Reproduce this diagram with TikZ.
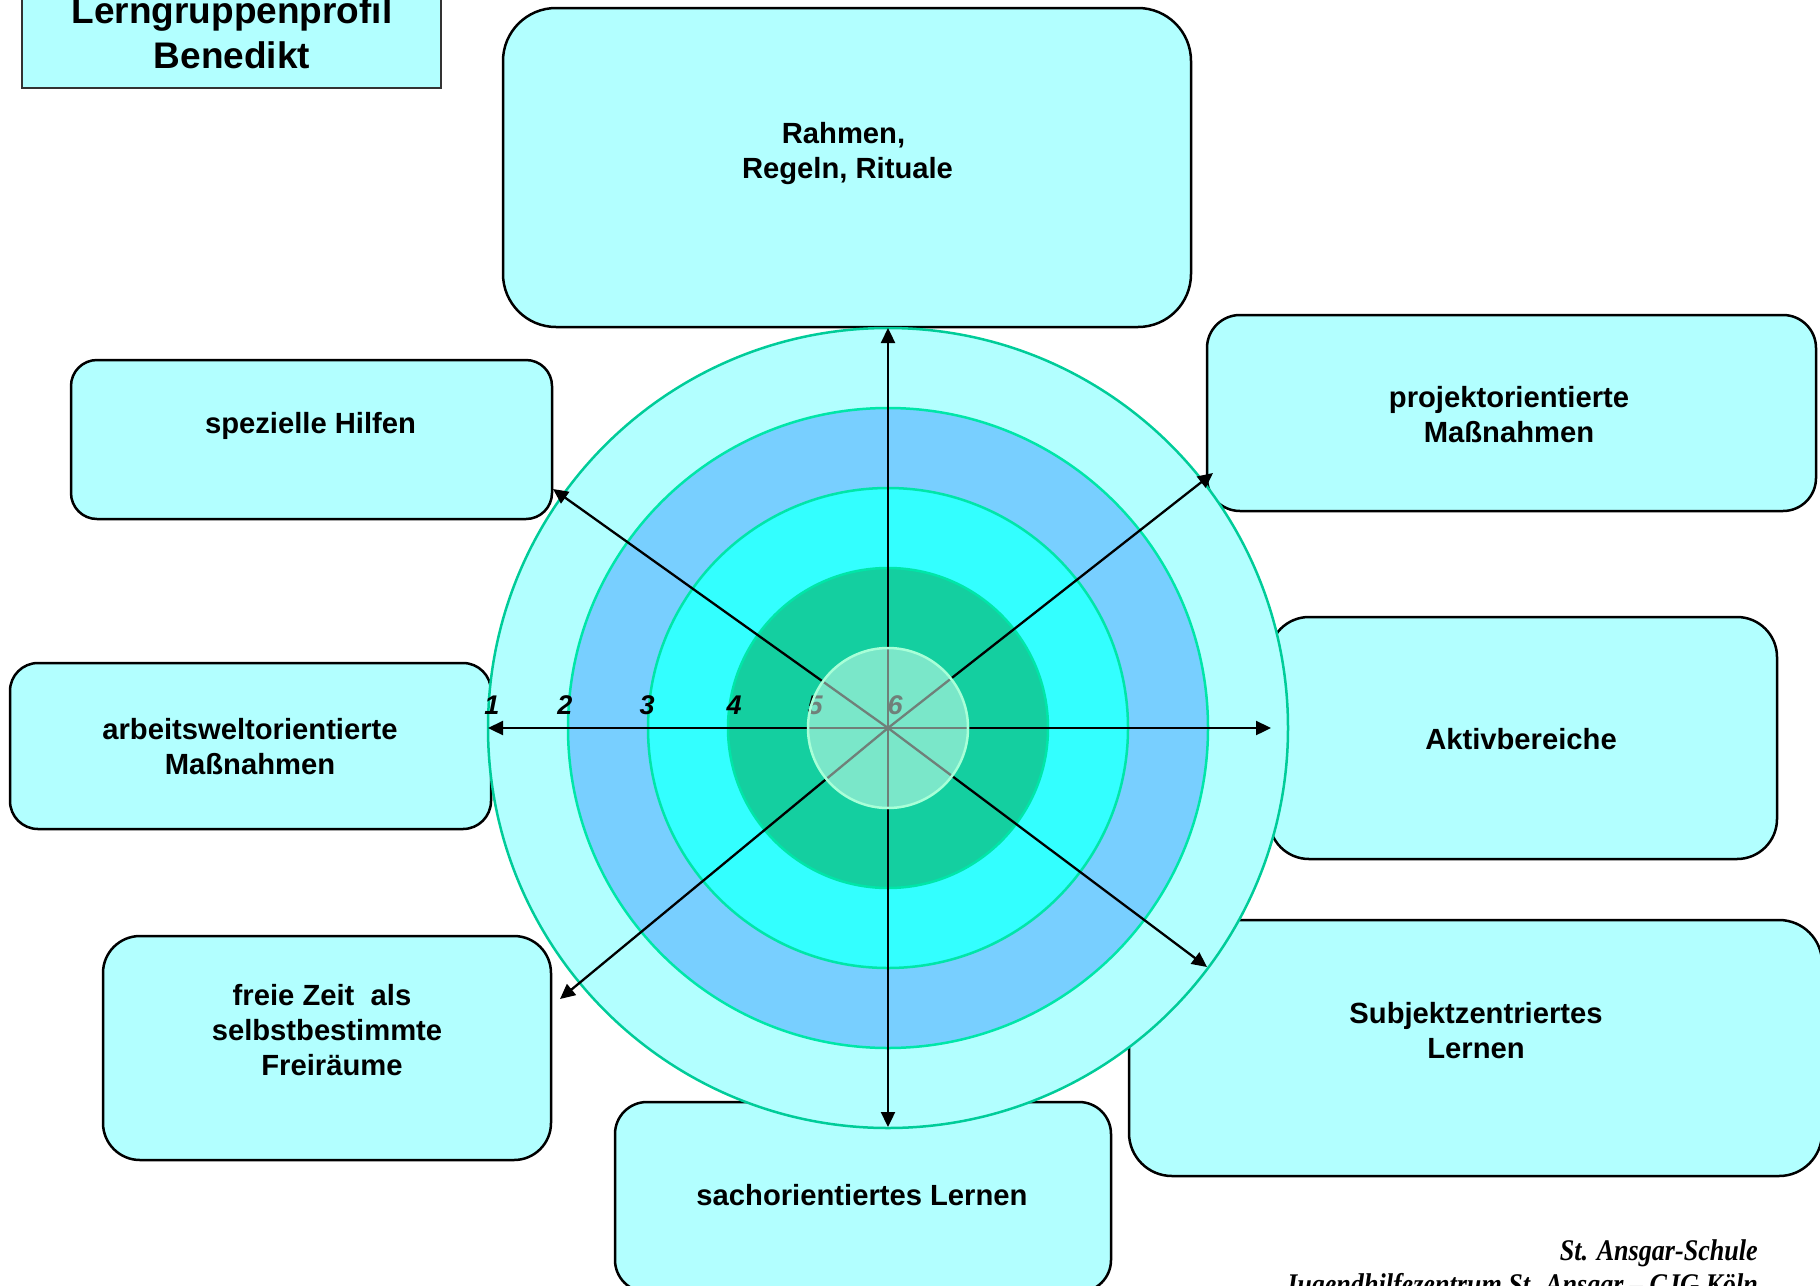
\documentclass[tikz,border=0pt]{standalone}
\usepackage{fontspec}
\setmainfont{Liberation Sans}
\newfontfamily\footfont{Liberation Serif}
\usepackage{graphicx}
\usetikzlibrary{arrows.meta}
\definecolor{boxfill}{HTML}{B2FFFF}
\definecolor{ringA}{HTML}{B2FFFF}
\definecolor{ringB}{HTML}{78CFFF}
\definecolor{ringC}{HTML}{33FFFF}
\definecolor{ringD}{HTML}{14CFA0}
\definecolor{ringline}{HTML}{00CC99}
\definecolor{ringlineB}{HTML}{00E6A8}
\definecolor{corefill}{HTML}{E0FFF3}
\definecolor{coreline}{HTML}{A8FFD8}
\definecolor{titleline}{HTML}{333333}
\newcommand{\mlines}[2][c]{\begin{tabular}[t]{@{}#1@{}}#2\end{tabular}}
\tikzset{
  roundbox/.style={draw=black, line width=2.5pt, fill=boxfill, inner sep=0pt, outer sep=0pt},
  boxtext/.style={font=\fontsize{29.2}{35.3}\selectfont\bfseries, anchor=base, inner sep=0pt},
  ringnode/.style={circle, inner sep=0pt, outer sep=0pt, line width=2.5pt},
  spoke/.style={line width=2.3pt, -{Triangle[length=15pt,width=14pt]}},
  numlbl/.style={font=\fontsize{27}{30}\selectfont\bfseries\itshape, anchor=base, inner sep=0pt},
}
\begin{document}
\begin{tikzpicture}[x=1pt,y=-1pt]
\useasboundingbox (0,0) rectangle (1820,1285);
\clip (0,0) rectangle (1820,1285);

% ---------- boxes ----------
\node[roundbox, rounded corners=53pt, minimum width=688pt, minimum height=319pt] (rahmen) at (847,167.5) {};
\node[roundbox, rounded corners=26pt, minimum width=481pt, minimum height=159pt] (hilfen) at (311.5,439.5) {};
\node[roundbox, rounded corners=33pt, minimum width=609pt, minimum height=196pt] (projekt) at (1511.5,413) {};
\node[roundbox, rounded corners=28pt, minimum width=481pt, minimum height=166pt] (arbeit) at (250.5,746) {};
\node[roundbox, rounded corners=40pt, minimum width=508pt, minimum height=242pt] (aktiv) at (1523,738) {};
\node[roundbox, rounded corners=37pt, minimum width=448pt, minimum height=224pt] (freie) at (327,1048) {};
\node[roundbox, rounded corners=43pt, minimum width=693pt, minimum height=256pt] (subjekt) at (1475.5,1048) {};
\node[roundbox, rounded corners=32pt, minimum width=496pt, minimum height=190pt] (sach) at (863,1197) {};

% ---------- box texts ----------
\node[boxtext] (rahmenT) at (847.5,143) {\mlines{Rahmen,\kern8pt\\Regeln, Rituale}};
\node[boxtext] (hilfenT) at (310.5,433) {spezielle Hilfen};
\node[boxtext] (projektT) at (1509,407) {\mlines{projektorientierte\\Maßnahmen}};
\node[boxtext] (arbeitT) at (250,739.5) {\mlines{arbeitsweltorientierte\\Maßnahmen}};
\node[boxtext] (aktivT) at (1521,749) {Aktivbereiche};
\node[boxtext] (freieT) at (327,1005) {\mlines{freie Zeit\ \ als\kern10pt\\selbstbestimmte\\\kern10pt Freiräume}};
\node[boxtext] (subjektT) at (1476,1023) {\mlines{Subjektzentriertes\\Lernen}};
\node[boxtext] (sachT) at (862,1205.5) {sachorientiertes Lernen};

% ---------- rings ----------
\coordinate (c) at (888,728);
\node[ringnode, minimum size=800pt, fill=ringA, draw=ringline] (ring1) at (c) {};
\node[ringnode, minimum size=640pt, fill=ringB, draw=ringlineB] (ring2) at (c) {};
\node[ringnode, minimum size=480pt, fill=ringC, draw=ringlineB] (ring3) at (c) {};
\node[ringnode, minimum size=320pt, fill=ringD, draw=ringlineB] (ring4) at (c) {};

% ---------- spokes ----------
\coordinate (tipT) at (888,328);
\coordinate (tipB) at (888,1127);
\coordinate (tipL) at (488,728);
\coordinate (tipR) at (1271,728);
\coordinate (tipUL) at (553,489);
\coordinate (tipUR) at (1213,473);
\coordinate (tipLL) at (560,999);
\coordinate (tipLR) at (1207,967);
\foreach \t in {tipT,tipB,tipL,tipR,tipUL,tipUR,tipLL,tipLR}
  \draw[spoke] (c) -- (\t);

% ---------- scale numbers ----------
\node[numlbl] (n1) at (492,714) {1};
\node[numlbl] (n2) at (565,714) {2};
\node[numlbl] (n3) at (647,714) {3};
\node[numlbl] (n4) at (734,714) {4};
\node[numlbl] (n5) at (815,714) {5};
\node[numlbl] (n6) at (895,714) {6};

% ---------- core ----------
\node[ringnode, minimum size=160pt, fill=corefill, fill opacity=0.5, draw=coreline] (core) at (c) {};

% ---------- title ----------
\node[draw=titleline, line width=2pt, fill=boxfill, minimum width=419pt, minimum height=150pt, inner sep=0pt] (titlebox) at (231.5,13) {};
\node[font=\fontsize{37}{45}\selectfont\bfseries, anchor=base, inner sep=0pt] (titleT) at (232,23) {\mlines{Lerngruppenprofil\\Benedikt}};

% ---------- footer ----------
\node[font=\footfont\fontsize{30}{34}\selectfont\bfseries\itshape, anchor=base east, inner sep=0pt] (foot) at (1758,1260)
  {\scalebox{0.87}[1]{\mlines[r]{St. Ansgar-Schule\\Jugendhilfezentrum St. Ansgar – CJG Köln}}};
\end{tikzpicture}
\end{document}
